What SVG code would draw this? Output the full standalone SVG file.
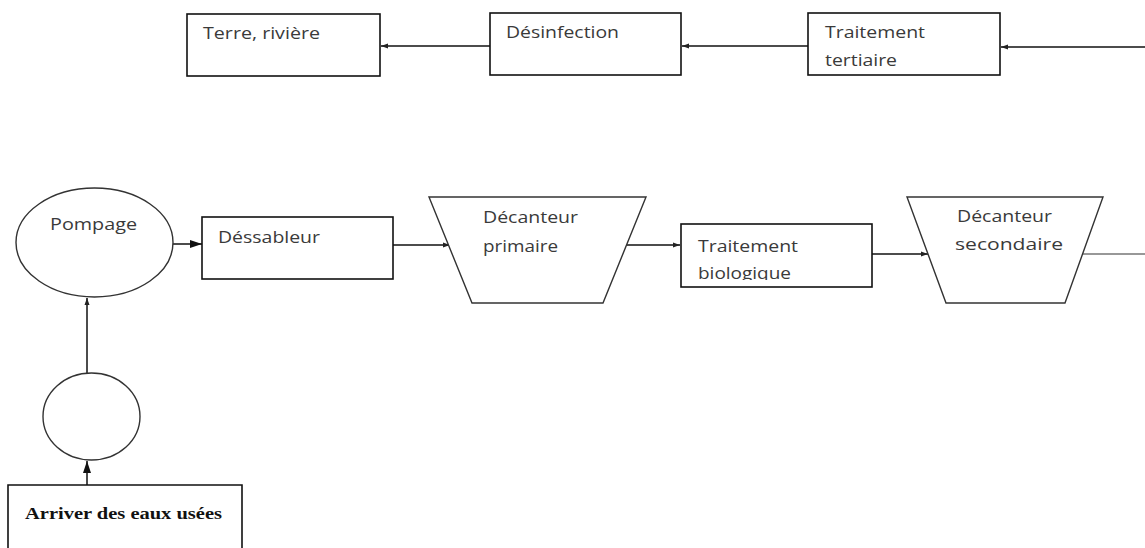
<svg xmlns="http://www.w3.org/2000/svg" width="1145" height="548" viewBox="0 0 1145 548">
<style>
.box{fill:#fff;stroke:#111;stroke-width:1.6}
.shape{fill:#fff;stroke:#333;stroke-width:1.4}
.t{font-family:"Open Sans","Liberation Sans",sans-serif;font-size:16px;fill:#3a3a3a}
.tb{font-family:"Liberation Serif",serif;font-size:16px;font-weight:bold;fill:#111}
.c{fill:none;stroke:#111;stroke-width:1.5}
</style>
<defs>
<marker id="a" markerWidth="8" markerHeight="8" refX="7" refY="4" orient="auto" markerUnits="userSpaceOnUse"><path d="M0,1.5 L7,4 L0,6.5 Z" fill="#222"/></marker>
<marker id="ab" markerWidth="14" markerHeight="10" refX="12" refY="5" orient="auto" markerUnits="userSpaceOnUse"><path d="M0,1 L12,5 L0,9 Z" fill="#111"/></marker>
<clipPath id="cb"><rect x="681" y="224" width="191" height="56"/></clipPath>
</defs>
<rect width="1145" height="548" fill="#fff"/>
<g id="connectors">
<line class="c" x1="1145" y1="47" x2="1001" y2="47" marker-end="url(#a)"/>
<line class="c" x1="808" y1="46" x2="682" y2="46" marker-end="url(#a)"/>
<line class="c" x1="490" y1="46" x2="381" y2="46" marker-end="url(#a)"/>
<line class="c" x1="87" y1="485" x2="87" y2="461" marker-end="url(#ab)"/>
<line class="c" x1="87" y1="373" x2="87" y2="298" marker-end="url(#a)"/>
<line class="c" x1="173" y1="244" x2="202" y2="244" marker-end="url(#ab)"/>
<line class="c" x1="393" y1="245" x2="450" y2="245" marker-end="url(#a)"/>
<line class="c" x1="623" y1="245" x2="680" y2="245" marker-end="url(#a)"/>
<line class="c" x1="872" y1="254" x2="928" y2="254" marker-end="url(#a)"/>
<line class="c" x1="1077" y1="254" x2="1145" y2="254" style="stroke-width:1.1;stroke:#333"/>
</g>
<g id="terre">
<rect class="box" x="187" y="14" width="193" height="62"/>
<text class="t" x="203" y="39" textLength="117" lengthAdjust="spacingAndGlyphs">Terre, rivière</text>
</g>
<g id="desinfection">
<rect class="box" x="490" y="13" width="191" height="62"/>
<text class="t" x="506" y="38" textLength="113" lengthAdjust="spacingAndGlyphs">Désinfection</text>
</g>
<g id="tertiaire">
<rect class="box" x="808" y="13" width="192" height="62"/>
<text class="t" x="825" y="38" textLength="100" lengthAdjust="spacingAndGlyphs">Traitement</text>
<text class="t" x="825" y="66" textLength="72" lengthAdjust="spacingAndGlyphs">tertiaire</text>
</g>
<g id="pompage">
<ellipse class="shape" cx="94.5" cy="242.5" rx="78.5" ry="54.5"/>
<text class="t" x="50" y="230" textLength="87" lengthAdjust="spacingAndGlyphs">Pompage</text>
</g>
<g id="cercle">
<ellipse class="shape" cx="91.5" cy="416.5" rx="48.5" ry="43.5"/>
</g>
<g id="arriver">
<path class="box" d="M8,550 L8,485 L242,485 L242,550"/>
<text class="tb" x="25" y="519" textLength="197" lengthAdjust="spacingAndGlyphs">Arriver des eaux usées</text>
</g>
<g id="dessableur">
<rect class="box" x="202" y="217" width="191" height="62"/>
<text class="t" x="218" y="243" textLength="102" lengthAdjust="spacingAndGlyphs">Déssableur</text>
</g>
<g id="decanteur1">
<path class="shape" d="M429,197 L646,197 L603,303 L472,303 Z"/>
<text class="t" x="483" y="223" textLength="95" lengthAdjust="spacingAndGlyphs">Décanteur</text>
<text class="t" x="483" y="252" textLength="75" lengthAdjust="spacingAndGlyphs">primaire</text>
</g>
<g id="biologique">
<rect class="box" x="681" y="224" width="191" height="63"/>
<g clip-path="url(#cb)">
<text class="t" x="698" y="252" textLength="100" lengthAdjust="spacingAndGlyphs">Traitement</text>
<text class="t" x="698" y="279" textLength="93" lengthAdjust="spacingAndGlyphs">biologique</text>
</g>
</g>
<g id="decanteur2">
<path class="shape" d="M907,197 L1103,197 L1065,303 L946,303 Z"/>
<text class="t" x="957" y="222" textLength="95" lengthAdjust="spacingAndGlyphs">Décanteur</text>
<text class="t" x="955" y="250" textLength="108" lengthAdjust="spacingAndGlyphs">secondaire</text>
</g>
</svg>
